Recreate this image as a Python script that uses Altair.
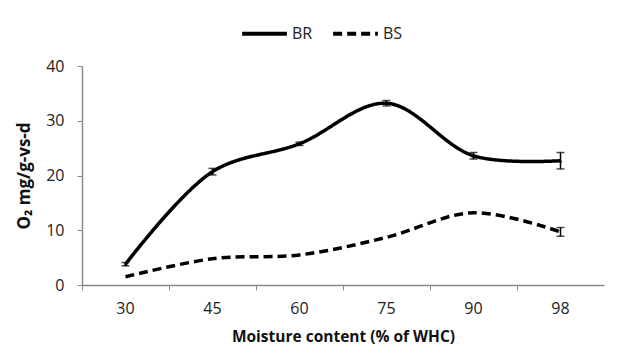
import altair as alt
import pandas as pd

categories = ["30", "45", "60", "75", "90", "98"]
br_values = [3.8, 20.7, 25.8, 33.2, 23.6, 22.7]
br_err = [0.3, 0.6, 0.3, 0.5, 0.6, 1.5]
bs_values = [1.5, 4.8, 5.5, 8.7, 13.2, 9.7]
bs_err = [0.0, 0.0, 0.0, 0.0, 0.0, 0.8]

rows = []
for c, v, e in zip(categories, br_values, br_err):
    rows.append({"x": c, "y": v, "lo": v - e, "hi": v + e, "s": "BR", "e": e})
for c, v, e in zip(categories, bs_values, bs_err):
    rows.append({"x": c, "y": v, "lo": v - e, "hi": v + e, "s": "BS", "e": e})
df = pd.DataFrame(rows)

FONT = "Open Sans"

xenc = alt.X("x:N", sort=categories, title="Moisture content (% of WHC)",
             scale=alt.Scale(paddingInner=0, paddingOuter=0),
             axis=alt.Axis(labelAngle=0, bandPosition=0, labelPadding=10,
                           titlePadding=13, titleFontSize=15.5))
yenc = alt.Y("y:Q", title="O₂ mg/g-vs-d",
             scale=alt.Scale(domain=[0, 40]),
             axis=alt.Axis(values=[0, 10, 20, 30, 40], grid=False,
                           labelPadding=13, titlePadding=12,
                           titleFontSize=17))

lines = alt.Chart(df).mark_line(
    interpolate="catmull-rom", strokeWidth=3.5, color="black"
).encode(
    x=xenc,
    y=yenc,
    strokeDash=alt.StrokeDash(
        "s:N",
        scale=alt.Scale(domain=["BR", "BS"], range=[[1, 0], [9, 5]]),
        legend=alt.Legend(title=None, orient="none", direction="horizontal",
                          legendX=158, legendY=-57, symbolType="stroke",
                          symbolSize=2000, symbolStrokeWidth=4,
                          symbolStrokeColor="black", labelFontSize=16,
                          labelFont=FONT, labelColor="#222",
                          columnPadding=12, labelOffset=3),
    ),
)

pts = alt.Chart(df[df.s == "BR"]).mark_point(
    shape="triangle-up", filled=True, color="black", size=18
).encode(x=alt.X("x:N", sort=categories), y="y:Q")

ebdf = df[df.e > 0.2]
rules = alt.Chart(ebdf).mark_rule(color="black", strokeWidth=1.5).encode(
    x=alt.X("x:N", sort=categories), y="lo:Q", y2="hi:Q")
caps_hi = alt.Chart(ebdf).mark_tick(color="black", orient="horizontal",
                                    size=8, thickness=1.5).encode(
    x=alt.X("x:N", sort=categories), y="hi:Q")
caps_lo = alt.Chart(ebdf).mark_tick(color="black", orient="horizontal",
                                    size=8, thickness=1.5).encode(
    x=alt.X("x:N", sort=categories), y="lo:Q")

chart = alt.layer(lines, pts, rules, caps_hi, caps_lo).properties(
    width=522, height=219,
    autosize=alt.AutoSizeParams(type="none"),
    padding={"left": 74, "top": 58, "right": 15, "bottom": 66},
).configure_view(stroke=None).configure_axis(
    domainColor="#8a8a8a", tickColor="#8a8a8a", domainWidth=1.5,
    tickSize=5, labelFont=FONT, titleFont=FONT, labelFontSize=16,
    labelColor="#222", titleColor="#111",
    titleFontWeight="bold",
)

chart.save("out.html", embed_options={"renderer": "svg", "actions": False})
